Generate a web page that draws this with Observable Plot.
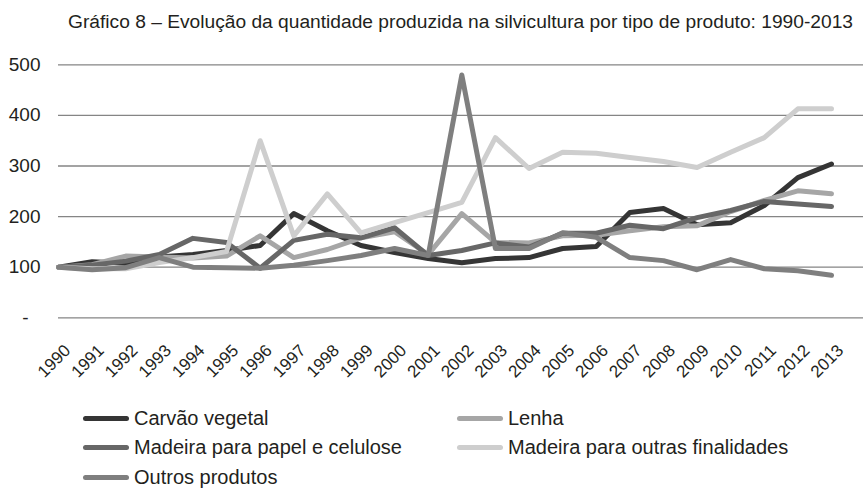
<!DOCTYPE html>
<html>
<head>
<meta charset="utf-8">
<script src="https://cdn.jsdelivr.net/npm/d3@7"></script>
<script src="https://cdn.jsdelivr.net/npm/@observablehq/plot@0.6"></script>
<style>
  html, body { margin: 0; padding: 0; background: #fff; }
  #wrap { position: relative; width: 863px; height: 496px; overflow: hidden;
          font-family: "Liberation Sans", Arial, sans-serif; color: #231f20; }
  #title { position: absolute; left: 58px; width: 805px; top: 11px; text-align: center;
           font-size: 19.2px; white-space: nowrap; }
  #chart { position: absolute; left: 0; top: 45px; }
  .leg { position: absolute; display: flex; align-items: center; font-size: 20px; white-space: nowrap; }
  .sw { width: 46px; height: 5px; border-radius: 3px; margin-right: 5px; }
</style>
</head>
<body>
<div id="wrap">
  <div id="title">Gráfico 8 – Evolução da quantidade produzida na silvicultura por tipo de produto: 1990-2013</div>
  <div id="chart"></div>
  <div id="legend"></div>
</div>
<script>
// ---- data (index numbers, 1990 = 100) ----
const years = [1990,1991,1992,1993,1994,1995,1996,1997,1998,1999,2000,2001,2002,2003,2004,2005,2006,2007,2008,2009,2010,2011,2012,2013];
const seriesNames = ["Carvão vegetal","Lenha","Madeira para papel e celulose","Madeira para outras finalidades","Outros produtos"];
const carvao  = [100,111,108,120,125,133,143,206,172,143,129,117,109,117,119,137,141,208,216,184,188,222,277,304];
const lenha   = [100,105,122,120,118,122,162,119,135,158,170,125,206,149,148,162,163,172,180,182,210,232,251,245];
const papel   = [100,104,112,125,157,149,98,153,165,158,178,123,133,148,140,167,167,183,176,198,212,230,225,220];
const outras  = [100,97,97,109,119,131,350,162,245,168,188,208,228,356,295,327,325,317,309,297,327,356,413,413];
const outros  = [100,95,99,119,100,99,98,104,113,123,137,123,480,137,137,168,159,119,113,95,115,97,93,84];
const colors  = ["#353535","#a6a6a6","#676767","#cecece","#7f7f7f"];
const yTicks  = [100,200,300,400,500];
const gridTicks = [0,100,200,300,400,500];

const seriesValues = [carvao, lenha, papel, outras, outros];
const rows = [];
seriesValues.forEach((vals, s) => vals.forEach((v, i) => rows.push({year: years[i], value: v, serie: seriesNames[s]})));

const font = "Liberation Sans, Arial, sans-serif";
const plot = Plot.plot({
  width: 863,
  height: 355,
  marginTop: 19.3,
  marginBottom: 82.7,
  marginLeft: 58,
  marginRight: 0,
  style: {fontFamily: font, color: "#231f20", background: "transparent"},
  x: {type: "linear", domain: [1990, 2013], range: [58, 831]},
  y: {domain: [0, 500]},
  color: {domain: seriesNames, range: colors},
  marks: [
    Plot.gridY(gridTicks, {stroke: "#858585", strokeOpacity: 1, strokeWidth: 1.3}),
    Plot.axisY(yTicks, {tickSize: 0, tickPadding: 18, fontSize: 19, tickFormat: d => String(d), label: null}),
    Plot.axisY([0], {tickSize: 0, tickPadding: 30, fontSize: 19, tickFormat: () => "-", label: null}),
    Plot.axisX(years, {tickSize: 0, tickPadding: 12, tickRotate: -45, fontSize: 17, dx: 9, dy: 18, tickFormat: d => String(d), label: null}),
    Plot.line(rows, {x: "year", y: "value", z: "serie", stroke: "serie", strokeWidth: 5, strokeLinejoin: "round", strokeLinecap: "round"})
  ]
});
document.getElementById("chart").appendChild(plot);

// legend
const legPos = [[83,418],[457,418],[83,447],[457,447],[83,477]];
const legend = document.getElementById("legend");
seriesNames.forEach((n, i) => {
  const d = document.createElement("div");
  d.className = "leg";
  d.style.left = legPos[i][0] + "px";
  d.style.top = (legPos[i][1] - 12) + "px";
  d.style.height = "24px";
  d.innerHTML = `<span class="sw" style="background:${colors[i]}"></span><span>${n}</span>`;
  legend.appendChild(d);
});
</script>
</body>
</html>
